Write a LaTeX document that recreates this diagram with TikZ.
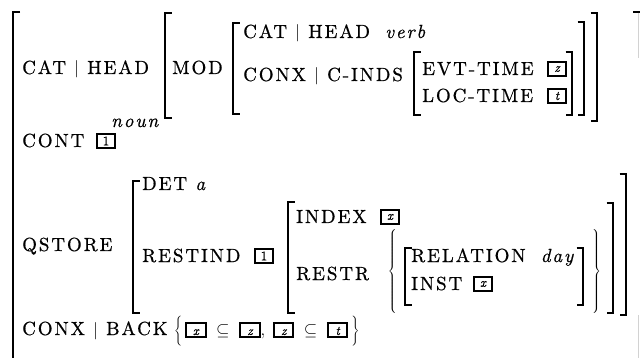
\documentclass[tikz,border=0pt]{standalone}
\usepackage{fontspec}
\newfontfamily\avm{lmroman10-regular}[Extension=.otf, ItalicFont=lmroman10-italic, LetterSpace=10, FakeBold=0.6]
\newfontfamily\tagf{lmroman10-regular}[Extension=.otf, ItalicFont=lmroman10-italic, FakeBold=0.8]
\newcommand\tg[1]{{\setlength\fboxrule{1.9pt}\setlength\fboxsep{1.3pt}\fbox{\makebox[15pt]{\fontsize{13}{13}\tagf\itshape\rule{0pt}{9.5pt}#1}}}}
\newcommand\avmL[3]{\draw[brk] (#1+6.5,#2) -- (#1,#2) -- (#1,#3) -- (#1+6.5,#3);}
\newcommand\avmR[3]{\draw[brk] (#1-6.5,#2) -- (#1,#2) -- (#1,#3) -- (#1-6.5,#3);}
\tikzset{
  brk/.style={line width=1.8pt},
  txt/.style={anchor=base west, inner sep=0pt, font={\fontsize{19}{22}\avm}},
  tagn/.style={draw, line width=1.9pt, minimum width=18pt, minimum height=14pt, inner sep=0pt, font={\fontsize{13}{13}\tagf}},
  brc/.style={inner sep=0pt, font={\fontsize{19}{22}\selectfont}}
}
\begin{document}
\begin{tikzpicture}[x=1pt,y=-1pt]
\useasboundingbox (0,0) rectangle (640,358);
% outer brackets
\draw[brk] (20,12) -- (13,12) -- (13,362);
\draw[brk] (633,12) -- (640,12);
\draw[gray!35, line width=1pt] (638.5,13) -- (638.5,58);
\draw[gray!35, line width=1pt] (638.5,315) -- (638.5,360);
% row 1
\node[txt] (cathead) at (22,74) {CAT $|$ HEAD};
\node[txt] (noun) at (111,127) {\textit{noun}};
\avmL{165}{13}{118}
\node[txt] (mod) at (172,74) {MOD};
\avmL{233}{23}{114}
\node[txt] (cathead2) at (243,38) {CAT $|$ HEAD\hspace{7pt} \textit{verb}};
\node[txt] (cinds) at (243,81) {CONX $|$ C-INDS};
\avmL{414}{52}{115}
\node[txt] (evt) at (422,75) {EVT-TIME};
\node[tagn] (tz) at (557,69) {\itshape z};
\node[txt] (loc) at (422,102) {LOC-TIME};
\node[tagn] (tt) at (557,96) {\itshape t};
\avmR{572}{52}{115}
\avmR{584}{22}{115}
\avmR{597}{13}{121}
% row 2
\node[txt] (cont) at (22,147) {CONT};
\node[tagn] (t1a) at (106,141) {1};
% row 3
\node[txt] (qstore) at (22,251) {QSTORE};
\avmL{133}{181}{313}
\node[txt] (det) at (142,190) {DET \textit{a}};
\node[txt] (restind) at (142,262) {RESTIND};
\node[tagn] (t1b) at (264,256) {1};
\avmL{288}{202}{313}
\node[txt] (index) at (296,223) {INDEX};
\node[tagn] (tx1) at (390,217) {\itshape x};
\node[txt] (restr) at (296,280) {RESTR};
\node[brc] (lbrace) at (393,273) {$\left\{\vrule height 40pt depth 40pt width 0pt\right.$};
\avmL{405}{248}{305}
\node[txt] (rel) at (411,262) {RELATION\hspace{7pt} \textit{day}};
\node[txt] (inst) at (411,290) {INST};
\node[tagn] (tx2) at (483,284) {\itshape x};
\avmR{583}{248}{305}
\node[brc] (rbrace) at (596,273) {$\left.\vrule height 40pt depth 40pt width 0pt\right\}$};
\avmR{613}{203}{313}
\avmR{626}{174}{315}
% row 4
\node[txt] (back) at (22,335) {CONX $|$ BACK};
\node[txt] (set) at (174,335) {$\left\{\vrule height 16pt depth 10pt width 0pt\,\tg{x}\;\subseteq\;\tg{z},\;\tg{z}\;\subseteq\;\tg{t}\,\right\}$};
\end{tikzpicture}
\end{document}
